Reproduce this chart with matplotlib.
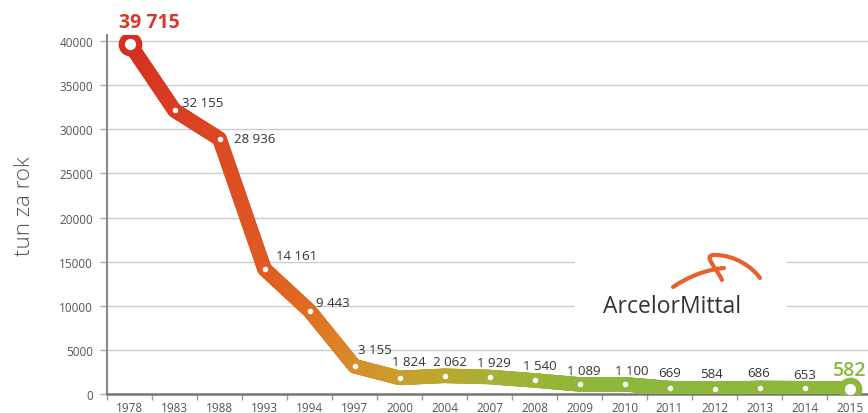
import numpy as np
import matplotlib
matplotlib.use('Agg')
import matplotlib.pyplot as plt
from matplotlib.collections import LineCollection
from matplotlib.colors import to_rgb
from matplotlib.path import Path
from matplotlib.patches import PathPatch, Rectangle

plt.rcParams['font.family'] = ['Open Sans', 'DejaVu Sans']

# dane
roky = ['1978', '1983', '1988', '1993', '1994', '1997', '2000', '2004', '2007',
        '2008', '2009', '2010', '2011', '2012', '2013', '2014', '2015']
emise = [39715, 32155, 28936, 14161, 9443, 3155, 1824, 2062, 1929,
         1540, 1089, 1100, 669, 584, 686, 653, 582]
popisky = ['39 715', '32 155', '28 936', '14 161', '9 443', '3 155', '1 824', '2 062', '1 929',
           '1 540', '1 089', '1 100', '669', '584', '686', '653', '582']
osa_y = [0, 5000, 10000, 15000, 20000, 25000, 30000, 35000, 40000]

# barvy podel cary
barvy = ['#d62e1f', '#da3c21', '#dc4722', '#df5a24', '#e06c22', '#d98c2a', '#cc9c2c',
         '#bca62e', '#abb032', '#9cb435', '#90b638', '#8cb73a', '#8cb73a', '#8cb73a',
         '#8cb73a', '#8cb73a', '#8cb73a']

fig = plt.figure(figsize=(8.68, 4.14), dpi=100)
ax = fig.add_axes([107/868, 19/414, 765/868, 359/414])

x = np.arange(len(roky))
y = np.array(emise, dtype=float)

# gradient cary
n = 40
segs = []
cols = []
for i in range(len(x) - 1):
    c0 = np.array(to_rgb(barvy[i]))
    c1 = np.array(to_rgb(barvy[i + 1]))
    for k in range(n):
        t0 = k / n
        t1 = (k + 1) / n
        segs.append([(x[i] + t0 * (x[i+1] - x[i]), y[i] + t0 * (y[i+1] - y[i])),
                     (x[i] + t1 * (x[i+1] - x[i]), y[i] + t1 * (y[i+1] - y[i]))])
        cols.append(c0 + (t0 + t1) / 2 * (c1 - c0))
lc = LineCollection(segs, colors=cols, linewidths=10.5, capstyle='round', joinstyle='round', zorder=3)
ax.add_collection(lc)

ax.scatter(x[1:-1], y[1:-1], s=16, color='white', zorder=4, linewidths=0)
ax.scatter([x[0]], [y[0]], s=160, facecolor='white', edgecolor=barvy[0], linewidths=4.5, zorder=5)
ax.scatter([x[-1]], [y[-1]], s=160, facecolor='white', edgecolor=barvy[-1], linewidths=4.5, zorder=5)

# popisky hodnot (posun v pixelech)
posuny = [(20, 22), (8, 8), (15, 0), (12, 14), (6, 8), (4, 17), (9, 16), (5, 14), (4, 14),
          (5, 15), (4, 14), (7, 14), (0, 16), (-3, 15), (-1, 15), (0, 14), (0, 19)]
for i, (lab, (dx, dy)) in enumerate(zip(popisky, posuny)):
    if i == 0:
        ax.annotate(lab, (x[i], y[i]), xytext=(dx, dy), textcoords='offset pixels',
                    ha='center', va='center', fontsize=14, fontweight='bold', color='#d83a2a', zorder=6)
    elif i == len(popisky) - 1:
        ax.annotate(lab, (x[i], y[i]), xytext=(dx, dy), textcoords='offset pixels',
                    ha='center', va='center', fontsize=14, fontweight='semibold', color='#8cb73a', zorder=6)
    elif i <= 5:
        ax.annotate(lab, (x[i], y[i]), xytext=(dx, dy), textcoords='offset pixels',
                    ha='left', va='center', fontsize=9.5, color='#333333', zorder=6)
    else:
        ax.annotate(lab, (x[i], y[i]), xytext=(dx, dy), textcoords='offset pixels',
                    ha='center', va='center', fontsize=9.5, color='#333333', zorder=6)

ax.set_xlim(-0.5, len(roky) - 0.5)
ax.set_ylim(0, 40700)
ax.set_yticks(osa_y)
ax.set_yticklabels([str(v) for v in osa_y], fontsize=8.5, color='#555555')
ax.set_xticks(x)
ax.set_xticklabels(roky, fontsize=8.5, color='#555555')
ax.set_xticks(np.arange(len(roky) + 1) - 0.5, minor=True)
ax.tick_params(axis='x', which='major', length=0, pad=5)
ax.tick_params(axis='x', which='minor', length=4, color='#999999', width=1)
ax.tick_params(axis='y', length=5, color='#aaaaaa', width=1, pad=5)
ax.grid(axis='y', color='#cccccc', linewidth=1, zorder=0)
ax.set_axisbelow(True)
for s in ['top', 'right']:
    ax.spines[s].set_visible(False)
ax.spines['left'].set_color('#888888')
ax.spines['left'].set_linewidth(1.5)
ax.spines['bottom'].set_color('#777777')
ax.spines['bottom'].set_linewidth(1.8)

# mezera v mrizce za logem
ax.add_patch(Rectangle((9.9, 8500), 4.7, 8500, facecolor='white', edgecolor='none', zorder=1))

fig.text(25/868, 1 - 206/414, 'tun za rok', rotation=90, ha='center', va='center',
         fontsize=16, color='#555555', fontweight='light')

# logo
ov = fig.add_axes([0, 0, 1, 1])
ov.set_xlim(0, 868)
ov.set_ylim(414, 0)
ov.axis('off')
ov.patch.set_alpha(0)
ov.text(672, 307, 'ArcelorMittal', ha='center', va='center', fontsize=16.5, color='#333333')
p1 = Path([(673, 288), (690, 277), (705, 271), (724, 269)],
          [Path.MOVETO, Path.CURVE4, Path.CURVE4, Path.CURVE4])
p2 = Path([(722, 281), (716, 268), (702, 256), (715, 256), (735, 256), (752, 268), (760, 279)],
          [Path.MOVETO, Path.CURVE4, Path.CURVE4, Path.CURVE4, Path.CURVE4, Path.CURVE4, Path.CURVE4])
ov.add_patch(PathPatch(p1, facecolor='none', edgecolor='#e8602c', linewidth=3, capstyle='round'))
ov.add_patch(PathPatch(p2, facecolor='none', edgecolor='#e8602c', linewidth=3, capstyle='round'))

fig.savefig('out.png', dpi=100)
